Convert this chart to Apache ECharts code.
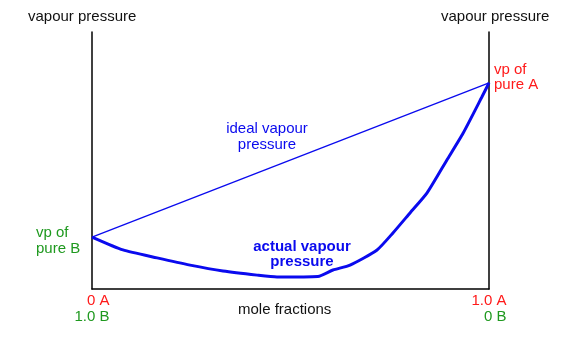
<!DOCTYPE html>
<html>
<head>
<meta charset="utf-8">
<script src="https://cdn.jsdelivr.net/npm/echarts@6/dist/echarts.min.js"></script>
<style>
  html, body { margin: 0; padding: 0; background: #fff; }
  #chart { width: 576px; height: 338px; }
</style>
</head>
<body>
<div id="chart"></div>
<script>
// Mole fraction of A (0 = pure B, 1 = pure A)
const moleFractionA = [0, 0.078, 0.164, 0.247, 0.330, 0.416, 0.466, 0.569, 0.607, 0.650, 0.718, 0.758, 0.801, 0.844, 0.894, 0.935, 0.982, 1];
// Measured (actual) vapour pressure, arbitrary units
const actualVP = [20.2, 15.2, 12.1, 9.3, 7.0, 5.4, 4.7, 4.9, 7.4, 9.3, 15.2, 21.8, 29.6, 37.4, 50.2, 60.7, 74.7, 80.2];
// Raoult's law line between the two pure-component vapour pressures
const idealX = [0, 1];
const idealVP = [20.2, 80.2];
// Tick labels at each end of the composition axis
const tickFractionA = ['0 A', '1.0 A'];
const tickFractionB = ['1.0 B', '0 B'];

const FONT = '"Liberation Sans", Arial, Helvetica, sans-serif';
const BLUE = '#0a0aee';
const RED = '#ff1a1a';
const GREEN = '#1f991f';

const chart = echarts.init(document.getElementById('chart'));

const axisLineStyle = { show: true, lineStyle: { color: '#000', width: 1.5 } };

chart.setOption({
  animation: false,
  backgroundColor: '#fff',
  grid: { left: 92, right: 87, top: 32, bottom: 49 },
  xAxis: {
    type: 'value', min: 0, max: 1, interval: 1,
    axisLine: axisLineStyle,
    axisTick: { show: false },
    splitLine: { show: false },
    axisLabel: {
      margin: 4,
      fontFamily: FONT,
      fontSize: 15,
      lineHeight: 16,
      formatter: function (v) {
        const i = v === 0 ? 0 : 1;
        return '{a|' + tickFractionA[i] + '}\n{b|' + tickFractionB[i] + '}';
      },
      rich: {
        a: { color: RED, align: 'right', fontSize: 15, fontFamily: FONT, lineHeight: 16 },
        b: { color: GREEN, align: 'right', fontSize: 15, fontFamily: FONT, lineHeight: 16 }
      }
    }
  },
  yAxis: [
    { type: 'value', min: 0, max: 100, position: 'left',
      axisLine: axisLineStyle, axisTick: { show: false }, axisLabel: { show: false }, splitLine: { show: false } },
    { type: 'value', min: 0, max: 100, position: 'right',
      axisLine: axisLineStyle, axisTick: { show: false }, axisLabel: { show: false }, splitLine: { show: false } }
  ],
  series: [
    {
      name: 'ideal vapour pressure',
      type: 'line',
      data: idealX.map((x, i) => [x, idealVP[i]]),
      symbol: 'none',
      lineStyle: { color: BLUE, width: 1.3 }
    },
    {
      name: 'actual vapour pressure',
      type: 'line',
      data: moleFractionA.map((x, i) => [x, actualVP[i]]),
      symbol: 'none',
      smooth: 0.2,
      lineStyle: { color: BLUE, width: 3 }
    }
  ],
  graphic: [
    { type: 'text', left: 28, top: 9, style: { text: 'vapour pressure', fill: '#111', font: '15px ' + FONT } },
    { type: 'text', left: 441, top: 9, style: { text: 'vapour pressure', fill: '#111', font: '15px ' + FONT } },
    { type: 'text', left: 494, top: 62, style: { text: 'vp of\npure A', fill: RED, font: '15px ' + FONT, lineHeight: 15 } },
    { type: 'text', left: 36, top: 225, style: { text: 'vp of\npure B', fill: GREEN, font: '15px ' + FONT, lineHeight: 16 } },
    { type: 'text', x: 267, y: 121, style: { text: 'ideal vapour\npressure', fill: BLUE, font: '15px ' + FONT, lineHeight: 16, align: 'center', verticalAlign: 'top' } },
    { type: 'text', x: 302, y: 239, style: { text: 'actual vapour\npressure', fill: BLUE, font: 'bold 15px ' + FONT, lineHeight: 15, align: 'center', verticalAlign: 'top' } },
    { type: 'text', left: 238, top: 302, style: { text: 'mole fractions', fill: '#111', font: '15px ' + FONT } }
  ]
});
</script>
</body>
</html>
